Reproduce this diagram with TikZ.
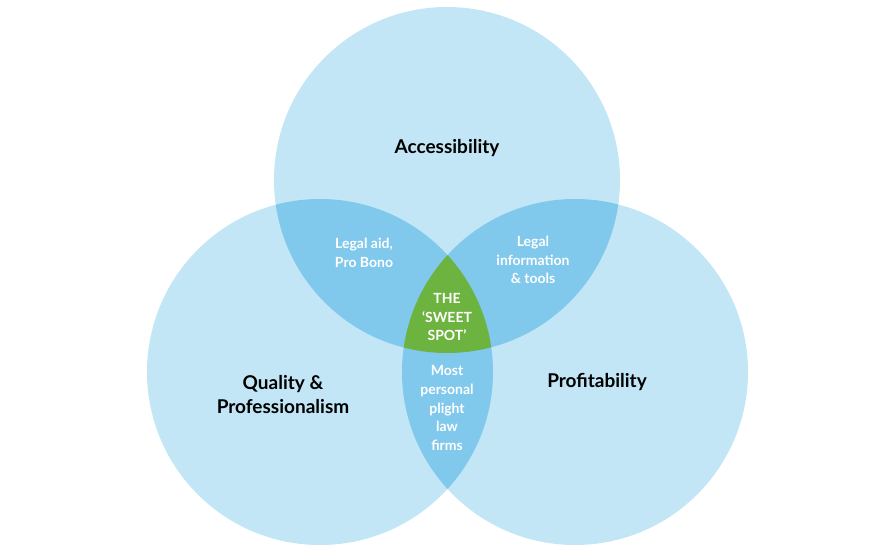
\documentclass[tikz,border=0pt]{standalone}
\usepackage{fontspec}
\setmainfont{Lato}
\usepackage{tikz}
\usetikzlibrary{positioning}
\definecolor{vennblue}{HTML}{C2E6F6}
\definecolor{overlapblue}{HTML}{80C9EC}
\definecolor{sweetgreen}{HTML}{6DB33F}
\tikzset{
    main label/.style={font=\fontsize{19}{24}\selectfont\bfseries, text=black, align=center},
    zone label/.style={font=\fontsize{14}{18.8}\selectfont\bfseries, text=white, align=center}
}

\begin{document}
\begin{tikzpicture}[x=1pt,y=1pt]
      % simple knobs
      \def\R{173pt}    % circle radius
      \useasboundingbox (0,0) rectangle (873,550);

      % circle centres
      \coordinate (access) at (447,370);
      \coordinate (quality) at (320,178);
      \coordinate (profit) at (575,178);

      % ===================== CIRCLES =====================
      \fill[vennblue] (access) circle (\R);
      \fill[vennblue] (quality) circle (\R);
      \fill[vennblue] (profit) circle (\R);

      % ===================== PAIRWISE OVERLAPS =====================
      \begin{scope}
        \clip (access) circle (\R);
        \fill[overlapblue] (quality) circle (\R);
        \fill[overlapblue] (profit) circle (\R);
      \end{scope}
      \begin{scope}
        \clip (quality) circle (\R);
        \fill[overlapblue] (profit) circle (\R);
      \end{scope}

      % ===================== SWEET SPOT =====================
      \begin{scope}
        \clip (access) circle (\R);
        \clip (quality) circle (\R);
        \fill[sweetgreen] (profit) circle (\R);
      \end{scope}

      % circle titles
      \node[main label] (accesslbl) at (447,402) {Accessibility};
      \node[main label] (qualitylbl) at (283,155) {Quality \&\\Professionalism};
      \node[main label] (profitlbl) at (597,168) {Profitability};

      % overlap labels
      \node[zone label] (legalaid) at (364,297) {Legal aid,\\Pro Bono};
      \node[zone label] (legalinfo) at (533,290) {Legal\\information\\\& tools};
      \node[zone label] (sweetlbl) at (447,233) {THE\\‘SWEET\\SPOT’};
      \node[zone label] (plight) at (447,142) {Most\\personal\\plight\\law\\firms};
\end{tikzpicture}
\end{document}
